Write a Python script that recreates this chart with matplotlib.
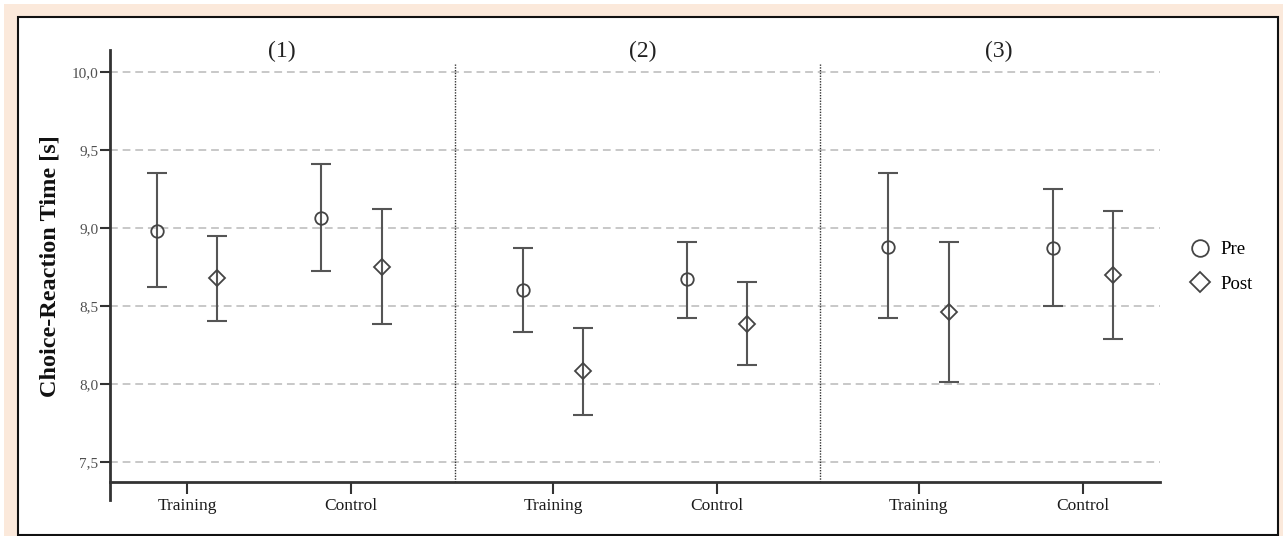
import matplotlib.pyplot as plt
from matplotlib.patches import Rectangle

plt.rcParams['font.family'] = ['Liberation Serif', 'DejaVu Serif']

# data
panels = ['(1)', '(2)', '(3)']
groups = ['Training', 'Control']
pre_mean = [[8.98, 9.06], [8.60, 8.67], [8.88, 8.87]]
pre_low = [[8.62, 8.72], [8.33, 8.42], [8.42, 8.50]]
pre_high = [[9.35, 9.41], [8.87, 8.91], [9.35, 9.25]]
post_mean = [[8.68, 8.75], [8.08, 8.38], [8.46, 8.70]]
post_low = [[8.40, 8.38], [7.80, 8.12], [8.01, 8.29]]
post_high = [[8.95, 9.12], [8.36, 8.65], [8.91, 9.11]]
yticks = [7.5, 8.0, 8.5, 9.0, 9.5, 10.0]

# layout
panel_step = 2.23
offset = 0.185
title_x = [0.58, 2.78, 4.945]
err_color = '#555555'
mk_color = '#444444'

fig = plt.figure(figsize=(12.83, 5.36), dpi=100)
fig.patch.set_facecolor('#fbe9db')
# white strips at the outer edge and the white frame (behind the axes)
fig.add_artist(Rectangle((0, 1 - 4 / 536), 1, 4 / 536, transform=fig.transFigure,
                         facecolor='white', edgecolor='none', zorder=-2))
fig.add_artist(Rectangle((0, 0), 4 / 1283, 1, transform=fig.transFigure,
                         facecolor='white', edgecolor='none', zorder=-2))
fig.add_artist(Rectangle((18 / 1283, 1 / 536), 1260 / 1283, 1 - 18 / 536,
                         transform=fig.transFigure, facecolor='white',
                         edgecolor='#111111', linewidth=1.5, zorder=-1))

ax = fig.add_axes([110 / 1283, 1 - 482 / 536, 1050 / 1283, 432 / 536])
ax.set_facecolor('none')
ax.set_xlim(-0.47, 5.93)
ax.set_ylim(7.37, 10.14)

for y in yticks:
    ax.axhline(y, color='#c8c8c8', linewidth=1.4, linestyle=(0, (4, 2.5)), zorder=1)

xt = []
xl = []
for p in range(len(panels)):
    for g in range(len(groups)):
        xc = p * panel_step + g
        xt.append(xc)
        xl.append(groups[g])
        for dx, m, lo, hi, mk, ms in [
            (-offset, pre_mean, pre_low, pre_high, 'o', 9),
            (offset, post_mean, post_low, post_high, 'D', 8.2),
        ]:
            v = m[p][g]
            ax.errorbar(xc + dx, v, yerr=[[v - lo[p][g]], [hi[p][g] - v]], fmt='none',
                        ecolor=err_color, elinewidth=1.5, capsize=7.5, capthick=1.5,
                        zorder=3)
            ax.plot(xc + dx, v, marker=mk, markersize=ms, markerfacecolor='none',
                    markeredgecolor=mk_color, markeredgewidth=1.3, linestyle='none',
                    zorder=4)
    ax.text(title_x[p], 0.9955, panels[p], transform=ax.get_xaxis_transform(),
            ha='center', va='center', fontsize=17, color='#222222')
    if p > 0:
        ax.plot([p * panel_step - 0.6] * 2, [7.37, 10.05], color='#333333',
                linewidth=1.0, linestyle=(0, (1, 1)), zorder=2)

ax.set_xticks(xt)
ax.set_xticklabels(xl, fontsize=12.5, color='#1a1a1a')
ax.set_yticks(yticks)
ax.set_yticklabels([f'{y:.1f}'.replace('.', ',') for y in yticks], fontsize=11,
                   color='#505050')
ax.tick_params(axis='y', direction='out', length=7.5, width=1.5, color='#333333', pad=1)
ax.tick_params(axis='x', direction='out', length=8.6, width=1.5, color='#333333', pad=3)

for s in ['top', 'right', 'left']:
    ax.spines[s].set_visible(False)
ax.spines['bottom'].set_color('#333333')
ax.spines['bottom'].set_linewidth(2)
ax.plot([0, 0], [7.255, 10.14], transform=ax.get_yaxis_transform(), color='#333333',
        linewidth=2, clip_on=False, zorder=5)

ax.set_ylabel('Choice-Reaction Time [s]', fontsize=17.5, fontweight='bold', color='#111111')
ax.yaxis.set_label_coords(-0.047, 0.5)

h_pre, = ax.plot([], [], marker='o', markersize=12, markerfacecolor='none',
                 markeredgecolor=mk_color, markeredgewidth=1.3, linestyle='none')
h_post, = ax.plot([], [], marker='D', markersize=10, markerfacecolor='none',
                  markeredgecolor=mk_color, markeredgewidth=1.3, linestyle='none')
fig.legend([h_pre, h_post], ['Pre', 'Post'], loc='center left',
           bbox_to_anchor=(1172 / 1283, 1 - 267 / 536), frameon=False, fontsize=13.5,
           handletextpad=0.5, labelspacing=0.95, handlelength=1.2)

fig.savefig('out.png', dpi=100, facecolor=fig.get_facecolor())
